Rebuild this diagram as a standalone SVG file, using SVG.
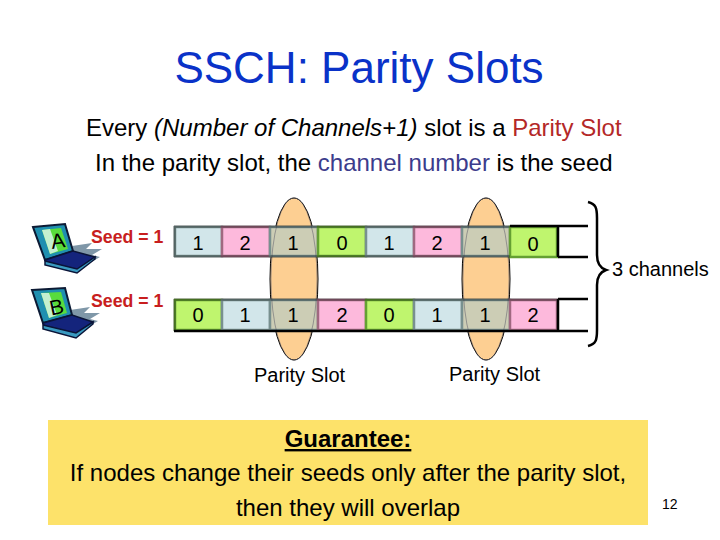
<svg xmlns="http://www.w3.org/2000/svg" width="720" height="540" viewBox="0 0 720 540">
<style>
text{font-family:"Liberation Sans",Arial,sans-serif;fill:#000}
.title{font-size:44px;fill:#0a32c8}
.sub{font-size:24px}
.num{font-size:20px;text-anchor:middle}
.seed{font-size:17.7px;font-weight:bold;fill:#c81e1e}
.lab{font-size:20px}
.g{font-size:24px;text-anchor:middle}
.s1{fill:#d2e6ea;stroke:#78908f;stroke-width:2.5}
.s2{fill:#fdb9dc;stroke:#a06880;stroke-width:2.5}
.s0{fill:#bff56e;stroke:#64a032;stroke-width:2.5}
.sp{fill:#cccdb5;stroke:#78908f;stroke-width:2.5}
.rail{stroke:#000;stroke-width:2.5;fill:none}
.shade{stroke:#000;stroke-width:2.5;stroke-opacity:.3;fill:none}
.oval{fill:#fdcf92;stroke:#000;stroke-width:1}
.ghost{fill:none;stroke:#556;stroke-width:1;stroke-opacity:.5}
.lt-screen{fill:#1f8fb0;stroke:#0c1a34;stroke-width:2}
.lt-disp{fill:#58dc3c}
.lt-glare{fill:#c4f0d0}
.lt-base{fill:#14247c;stroke:#0a1438;stroke-width:1.5}
.lt-edge{fill:#3a9ac0;stroke:#0a1438;stroke-width:1.5}
.lt-shadow{fill:#7f97a8}
.lt-letter{font-size:21px;fill:#000;text-anchor:middle}
</style>
<rect width="720" height="540" fill="#fff"/>
<text class="title" x="359" y="83" text-anchor="middle">SSCH: Parity Slots</text>
<text class="sub" x="86" y="136">Every <tspan font-style="italic">(Number of Channels+1)</tspan> slot is a <tspan fill="#b42828">Parity Slot</tspan></text>
<text class="sub" x="95" y="171">In the parity slot, the <tspan fill="#3c3c8c">channel number</tspan> is the seed</text>

<g id="laptop-a">
<polygon class="lt-shadow" points="72,246 92,243 86,249 102,249 92,255 100,257 88,264 78,272"/>
<polygon class="lt-screen" points="33,227 65,224 73,251 45,260"/>
<polygon class="lt-disp" points="42,230 61,228 68,249 50,254"/>
<polygon class="lt-glare" points="42,230 50,229 58,251 50,254"/>
<polygon class="lt-base" points="45,260 73,251 95,257 77,270 46,262"/>
<polygon class="lt-edge" points="45,261 77,269 95,257 95,259 77,273 45,265"/>
<text class="lt-letter" x="59" y="248" transform="rotate(-8 59 248)">A</text>
</g>
<g id="laptop-b">
<polygon class="lt-shadow" points="70,310 90,307 84,313 100,313 90,319 98,321 86,328 76,336"/>
<polygon class="lt-screen" points="32,290 65,288 72,315 43,323"/>
<polygon class="lt-disp" points="41,293 61,292 67,313 49,318"/>
<polygon class="lt-glare" points="41,293 49,293 57,315 49,318"/>
<polygon class="lt-base" points="43,323 72,315 93,322 76,334 44,326"/>
<polygon class="lt-edge" points="43,325 76,333 93,322 93,324 76,338 43,329"/>
<text class="lt-letter" x="58" y="314" transform="rotate(-12 58 314)">B</text>
</g>
<g id="seed-a"><text class="seed" x="91" y="243">Seed = 1</text></g>
<g id="seed-b"><text class="seed" x="91" y="307">Seed = 1</text></g>

<g id="parity-ovals">
<ellipse class="oval" cx="294" cy="279" rx="24" ry="81"/>
<ellipse class="oval" cx="486" cy="279" rx="24" ry="81"/>
</g>

<g id="row-a">
<rect class="s1" x="175" y="227" width="47" height="29"/>
<rect class="s2" x="222" y="227" width="48" height="29"/>
<rect class="sp" x="270" y="227" width="48" height="29"/>
<rect class="s0" x="318" y="227" width="48" height="29"/>
<rect class="s1" x="366" y="227" width="48" height="29"/>
<rect class="s2" x="414" y="227" width="48" height="29"/>
<rect class="sp" x="462" y="227" width="48" height="29"/>
<rect class="s0" x="510" y="227" width="47" height="30"/>
<text class="num" x="198" y="250">1</text><text class="num" x="245" y="250">2</text><text class="num" x="293" y="250">1</text><text class="num" x="342" y="250">0</text><text class="num" x="389" y="250">1</text><text class="num" x="437" y="250">2</text><text class="num" x="485" y="250">1</text><text class="num" x="533" y="251">0</text>
</g>
<g id="row-b">
<rect class="s0" x="175" y="300" width="47" height="30"/>
<rect class="s1" x="222" y="300" width="48" height="30"/>
<rect class="sp" x="270" y="300" width="48" height="30"/>
<rect class="s2" x="318" y="300" width="48" height="30"/>
<rect class="s0" x="366" y="300" width="48" height="30"/>
<rect class="s1" x="414" y="300" width="48" height="30"/>
<rect class="sp" x="462" y="300" width="48" height="30"/>
<rect class="s2" x="510" y="300" width="47" height="30"/>
<text class="num" x="198" y="322">0</text><text class="num" x="245" y="322">1</text><text class="num" x="293" y="322">1</text><text class="num" x="342" y="322">2</text><text class="num" x="389" y="322">0</text><text class="num" x="437" y="322">1</text><text class="num" x="485" y="322">1</text><text class="num" x="533" y="322">2</text>
</g>

<g id="parity-outlines">
<ellipse class="ghost" cx="294" cy="279" rx="23" ry="81"/>
<ellipse class="ghost" cx="486" cy="279" rx="23" ry="81"/>
</g>

<g id="rails">
<path class="shade" d="M174 226.500H510M174 256.500H510M174 299.500H558M174.500 226V257M174.500 299V331"/>
<path class="rail" d="M510 226H588M558 257H588M558 299H588M174 331H588M558 226V257M558 299V331"/>
</g>

<g id="brace">
<path d="M588 202C596 204 597 208 597 218V255C597 264 600 268 606 270C600 272 597 276 597 285V330C597 340 596 344 588 346" fill="none" stroke="#000" stroke-width="2.5"/>
<text class="lab" x="612" y="276">3 channels</text>
</g>
<text class="lab" x="254" y="382">Parity Slot</text>
<text class="lab" x="449" y="381">Parity Slot</text>

<g id="guarantee">
<rect x="48" y="420" width="600" height="105" fill="#fde26a"/>
<text class="g" x="348" y="447" text-decoration="underline" style="font-weight:bold">Guarantee:</text>
<text class="g" x="348" y="481">If nodes change their seeds only after the parity slot,</text>
<text class="g" x="348" y="516">then they will overlap</text>
</g>
<text x="662" y="509" font-size="14">12</text>
</svg>
